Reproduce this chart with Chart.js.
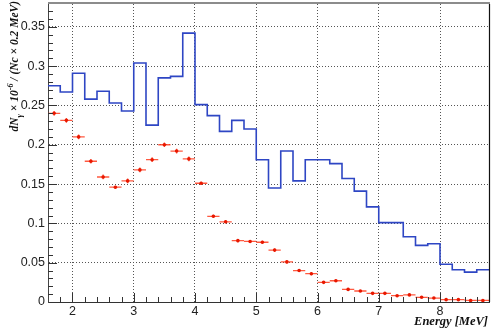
<!DOCTYPE html>
<html>
<head>
<meta charset="utf-8">
<script src="https://cdn.jsdelivr.net/npm/chart.js@4"></script>
<style>
  html, body { margin: 0; padding: 0; background: #fff; }
  #wrap { width: 499px; height: 333px; }
</style>
</head>
<body>
<div id="wrap"><canvas id="chart" width="499" height="333"></canvas></div>
<script>
// Photon energy spectrum: simulated histogram (blue) vs measured points (red).

const binWidth = 0.2;
const energies = [1.7, 1.9, 2.1, 2.3, 2.5, 2.7, 2.9, 3.1, 3.3, 3.5, 3.7, 3.9,
                  4.1, 4.3, 4.5, 4.7, 4.9, 5.1, 5.3, 5.5, 5.7, 5.9, 6.1, 6.3,
                  6.5, 6.7, 6.9, 7.1, 7.3, 7.5, 7.7, 7.9, 8.1, 8.3, 8.5, 8.7];

const mcValues = [0.275, 0.267, 0.291, 0.258, 0.268, 0.253, 0.243, 0.304, 0.225, 0.285, 0.287, 0.342,
                  0.251, 0.237, 0.217, 0.231, 0.220, 0.181, 0.145, 0.192, 0.154, 0.181, 0.181, 0.176,
                  0.157, 0.141, 0.121, 0.101, 0.101, 0.083, 0.072, 0.074, 0.048, 0.041, 0.038, 0.041];

const dataValues = [0.240, 0.231, 0.210, 0.179, 0.159, 0.146, 0.154, 0.168, 0.181, 0.200, 0.192, 0.182,
                    0.151, 0.109, 0.102, 0.078, 0.077, 0.076, 0.066, 0.051, 0.040, 0.036, 0.025, 0.027,
                    0.016, 0.014, 0.011, 0.011, 0.008, 0.009, 0.006, 0.005, 0.003, 0.003, 0.002, 0.002];

const dataErrors = [0.003, 0.003, 0.003, 0.003, 0.003, 0.002, 0.003, 0.003, 0.003, 0.003, 0.003, 0.003,
                    0.002, 0.002, 0.002, 0.002, 0.002, 0.002, 0.002, 0.002, 0.002, 0.002, 0.0015, 0.0015,
                    0.0012, 0.0012, 0.001, 0.001, 0.001, 0.001, 0.001, 0.001, 0.0008, 0.0008, 0.0008, 0.0008];

const xTicks = [2, 3, 4, 5, 6, 7, 8];
const yTicks = [0, 0.05, 0.1, 0.15, 0.2, 0.25, 0.3, 0.35];
const yTickLabels = ['0', '0.05', '0.1', '0.15', '0.2', '0.25', '0.3', '0.35'];

const BLUE = '#2e46c4';
const TITLE_FONT = 'bold italic {size}px "Liberation Serif", "DejaVu Serif", serif';

// histogram outline: one point per left bin edge, plus the closing right edge
const histPoints = energies.map((e, i) => ({ x: e - binWidth / 2, y: mcValues[i] }));
histPoints.push({ x: energies[energies.length - 1] + binWidth / 2, y: mcValues[mcValues.length - 1] });
const dataPoints = energies.map((e, i) => ({ x: e, y: dataValues[i] }));

function titleFont(size) {
    return TITLE_FONT.replace('{size}', size);
}

// Draws a run of [text, kind] parts, right-aligned at x=0 on the current transform.
function drawRichText(ctx, parts, size) {
    const pieces = parts.map(([text, kind]) => {
        const s = kind === 'n' ? size : size * 0.7;
        ctx.font = titleFont(s);
        return { text, kind, s, w: ctx.measureText(text).width };
    });
    const total = pieces.reduce((a, p) => a + p.w, 0);
    let x = -total;
    pieces.forEach(p => {
        ctx.font = titleFont(p.s);
        let dy = 0;
        if (p.kind === 'sub') dy = size * 0.35;
        if (p.kind === 'sup') dy = -size * 0.4;
        ctx.fillText(p.text, x, dy);
        x += p.w;
    });
}

const rootStyle = {
    id: 'rootStyle',
    beforeDatasetsDraw(chart) {
        // horizontal (bin width) and vertical error bars for the data points
        const { ctx, scales: { x, y } } = chart;
        ctx.save();
        ctx.strokeStyle = 'rgba(255, 60, 30, 0.85)';
        ctx.lineWidth = 1.3;
        energies.forEach((e, i) => {
            const px = x.getPixelForValue(e);
            const py = y.getPixelForValue(dataValues[i]);
            ctx.beginPath();
            ctx.moveTo(x.getPixelForValue(e - binWidth / 2), py);
            ctx.lineTo(x.getPixelForValue(e + binWidth / 2), py);
            ctx.moveTo(px, y.getPixelForValue(dataValues[i] - dataErrors[i]));
            ctx.lineTo(px, y.getPixelForValue(dataValues[i] + dataErrors[i]));
            ctx.stroke();
        });
        ctx.restore();
    },
    afterDraw(chart) {
        const { ctx, chartArea: a, scales: { x, y } } = chart;
        ctx.save();

        // frame: grey top edge, black right edge
        ctx.strokeStyle = '#8c8c8c';
        ctx.lineWidth = 2;
        ctx.beginPath();
        ctx.moveTo(a.left, a.top - 1);
        ctx.lineTo(a.right + 1, a.top - 1);
        ctx.stroke();
        ctx.strokeStyle = '#111';
        ctx.lineWidth = 1.2;
        ctx.beginPath();
        ctx.moveTo(a.right + 0.5, a.top);
        ctx.lineTo(a.right + 0.5, a.bottom);
        ctx.stroke();

        // inward tick marks, ROOT style
        ctx.strokeStyle = '#333';
        ctx.lineWidth = 1;
        ctx.beginPath();
        for (let v = 1.8; v < 8.8 - 1e-6; v += 0.2) {
            const px = Math.round(x.getPixelForValue(v)) + 0.5;
            const major = Math.abs(v - Math.round(v)) < 1e-6;
            ctx.moveTo(px, a.bottom);
            ctx.lineTo(px, a.bottom - (major ? 9 : 5));
        }
        for (let v = 0.01; v < y.max; v += 0.01) {
            const py = Math.round(y.getPixelForValue(v)) + 0.5;
            const major = Math.abs(v * 20 - Math.round(v * 20)) < 1e-6;
            ctx.moveTo(a.left, py);
            ctx.lineTo(a.left + (major ? 9 : 5), py);
        }
        ctx.stroke();

        // axis titles
        ctx.fillStyle = '#111';
        ctx.textBaseline = 'alphabetic';
        ctx.textAlign = 'right';
        ctx.font = titleFont(12.5);
        ctx.fillText('Energy [MeV]', a.right - 1, 325);

        ctx.translate(18, 1);
        ctx.rotate(-Math.PI / 2);
        ctx.textAlign = 'left';
        drawRichText(ctx, [
            ['dN', 'n'], ['\u03b3', 'sub'], [' \u00d7 10', 'n'], ['-6', 'sup'],
            [' / (Nc \u00d7 0.2 MeV)', 'n']
        ], 11.5);
        ctx.restore();
    }
};

new Chart(document.getElementById('chart').getContext('2d'), {
    type: 'scatter',
    data: {
        datasets: [
            {
                type: 'line',
                label: 'Simulation',
                data: histPoints,
                stepped: true,
                borderColor: BLUE,
                borderWidth: 1.6,
                pointRadius: 0,
                fill: false,
                order: 2
            },
            {
                type: 'scatter',
                label: 'Data',
                data: dataPoints,
                pointRadius: 1.8,
                pointBackgroundColor: '#e81800',
                pointBorderWidth: 0,
                order: 1
            }
        ]
    },
    options: {
        responsive: false,
        animation: false,
        devicePixelRatio: 1,
        layout: { padding: { left: 0, right: 10, top: 2, bottom: 0 } },
        plugins: {
            legend: { display: false },
            tooltip: { enabled: false }
        },
        scales: {
            x: {
                type: 'linear',
                min: 1.6,
                max: 8.8,
                afterBuildTicks: s => { s.ticks = xTicks.map(v => ({ value: v })); },
                afterFit: s => {
                    s.height = 31;
                    s.paddingLeft = 0;
                    s.paddingRight = 0;
                },
                grid: { color: '#555', lineWidth: 1, drawTicks: false },
                border: { display: true, color: '#333', width: 1, dash: [1, 2] },
                ticks: {
                    padding: 2,
                    color: '#222',
                    autoSkip: false,
                    maxRotation: 0,
                    font: { family: '"Liberation Sans", Arial, sans-serif', size: 12.5 },
                    callback: v => String(v)
                }
            },
            y: {
                type: 'linear',
                min: 0,
                max: 0.379,
                afterBuildTicks: s => { s.ticks = yTicks.map(v => ({ value: v })); },
                afterFit: s => {
                    s.width = 48;
                    s.paddingTop = 0;
                    s.paddingBottom = 0;
                },
                grid: { color: '#555', lineWidth: 1, drawTicks: false },
                border: { display: true, color: '#444', width: 1, dash: [1, 2] },
                ticks: {
                    padding: 3,
                    color: '#222',
                    autoSkip: false,
                    font: { family: '"Liberation Sans", Arial, sans-serif', size: 12.5 },
                    callback: (v, i) => yTickLabels[i]
                }
            }
        }
    },
    plugins: [rootStyle]
});
</script>
</body>
</html>
